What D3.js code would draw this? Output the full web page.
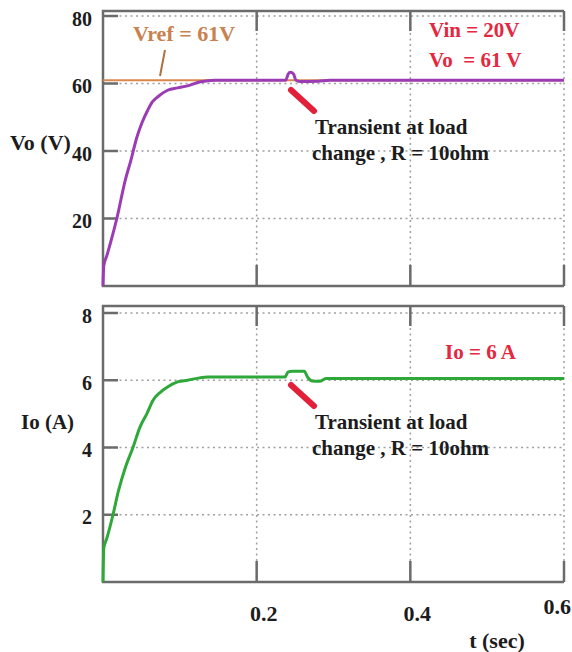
<!DOCTYPE html>
<html>
<head>
<style type="text/css">
body { margin: 0; background: #fff; }
.axisline { stroke: #6b6b6b; stroke-width: 2.5; fill: none; }
.grid { stroke: #a0a0a0; stroke-width: 1.5; stroke-dasharray: 2,3.5; fill: none; }
.tick-solid { stroke: #6b6b6b; stroke-width: 2.5; }
</style>
<script src="https://d3js.org/d3.v7.min.js"></script>
</head>
<body>
<script type="text/javascript">
var width = 572;
var height = 652;
var serif = "'Liberation Serif', 'Times New Roman', serif";

// data
var xTicks = [0.2, 0.4, 0.6];
var voTicks = [20, 40, 60, 80];
var ioTicks = [2, 4, 6, 8];
var vref = 61;

var voTime = [0, 0.001, 0.005, 0.010, 0.018, 0.029, 0.036, 0.044, 0.051, 0.058, 0.064, 0.071, 0.084, 0.097, 0.110, 0.127, 0.145, 0.2, 0.238, 0.241, 0.244, 0.248, 0.251, 0.256, 0.28, 0.295, 0.4, 0.5, 0.6];
var voVals = [0, 6, 9, 13, 20, 31.4, 37, 44, 48.5, 52, 54.5, 56, 58, 58.7, 59.3, 60.5, 61, 61, 61, 62.8, 63.3, 62.8, 61, 60.6, 60.7, 61, 61, 61, 61];

var ioTime = [0, 0.001, 0.005, 0.013, 0.02, 0.029, 0.039, 0.048, 0.057, 0.065, 0.075, 0.084, 0.097, 0.110, 0.136, 0.2, 0.237, 0.241, 0.246, 0.262, 0.266, 0.272, 0.282, 0.29, 0.3, 0.4, 0.5, 0.6];
var ioVals = [0, 1.0, 1.3, 2.0, 2.7, 3.4, 4.0, 4.6, 5.0, 5.4, 5.65, 5.8, 5.95, 6.0, 6.1, 6.1, 6.1, 6.25, 6.27, 6.27, 6.1, 5.98, 5.97, 6.05, 6.05, 6.05, 6.05, 6.05];

var svg = d3.select("body").append("svg").attr("width", width).attr("height", height);

var x = d3.scaleLinear().domain([0, 0.6]).range([103, 564]);
var yV = d3.scaleLinear().domain([0, 80]).range([286, 16]);
var yI = d3.scaleLinear().domain([0, 8]).range([582, 313]);

function txt(size, fill) {
	return function(sel) {
		sel.style("font-family", serif).style("font-weight", "bold")
			.style("font-size", size + "px").style("white-space", "pre").attr("fill", fill);
	};
}

function panel(y, ticks, top, bottom) {
	var g = svg.append("g");
	// horizontal grid + short solid ticks
	ticks.forEach(function(t) {
		g.append("line").attr("class", "grid").attr("x1", x(0)).attr("x2", x(0.6)).attr("y1", y(t)).attr("y2", y(t));
		g.append("line").attr("class", "tick-solid").attr("x1", x(0)).attr("x2", x(0) + 15).attr("y1", y(t)).attr("y2", y(t));
	});
	// vertical grid + solid ticks top and bottom
	xTicks.forEach(function(t) {
		g.append("line").attr("class", "grid").attr("x1", x(t)).attr("x2", x(t)).attr("y1", top).attr("y2", bottom);
		g.append("line").attr("class", "tick-solid").attr("x1", x(t)).attr("x2", x(t)).attr("y1", top).attr("y2", top + 20);
		g.append("line").attr("class", "tick-solid").attr("x1", x(t)).attr("x2", x(t)).attr("y1", bottom - 21).attr("y2", bottom);
	});
	g.append("path").attr("class", "axisline")
		.attr("d", "M" + x(0.6) + "," + top + "H" + x(0) + "V" + bottom + "H" + x(0.6));
	// tick labels
	var ax = d3.axisLeft(y).tickValues(ticks).tickSize(0).tickPadding(11).tickFormat(d3.format("d"));
	var a = g.append("g").attr("transform", "translate(" + x(0) + ",0)").call(ax);
	a.select(".domain").remove();
	a.selectAll("text").call(txt(20, "#1c1c1c")).attr("dy", "0.45em");
	return g;
}

panel(yV, voTicks, 11, yV(0));
panel(yI, ioTicks, 306, yI(0));

// x tick labels
svg.selectAll(".xl").data(xTicks).enter().append("text")
	.call(txt(22, "#1c1c1c"))
	.attr("x", function(d, i) { return i == xTicks.length - 1 ? 571 : x(d) + 7; })
	.attr("y", function(d, i) { return i == xTicks.length - 1 ? 614 : 621; })
	.attr("text-anchor", function(d, i) { return i == xTicks.length - 1 ? "end" : "middle"; })
	.text(function(d) { return d3.format(".1f")(d); });
svg.append("text").call(txt(22, "#1c1c1c")).attr("x", 497).attr("y", 648).attr("text-anchor", "middle").text("t (sec)");

// axis titles
svg.append("text").call(txt(22, "#1c1c1c")).attr("x", 10).attr("y", 150).text("Vo (V)");
svg.append("text").call(txt(21, "#1c1c1c")).attr("x", 21).attr("y", 429).text("Io (A)");

// Vref line
svg.append("line").attr("x1", x(0)).attr("x2", x(0.6)).attr("y1", yV(vref)).attr("y2", yV(vref))
	.attr("stroke", "#d8884e").attr("stroke-width", 2);
svg.append("line").attr("x1", 160).attr("y1", 76).attr("x2", 165).attr("y2", 50)
	.attr("stroke", "#b07040").attr("stroke-width", 2);
svg.append("text").call(txt(22, "#c88250")).attr("x", 133).attr("y", 41).text("Vref = 61V");

// Vo curve
var voData = voTime.map(function(t, i) { return [t, voVals[i]]; });
svg.append("path").datum(voData)
	.attr("fill", "none").attr("stroke", "#9c3cb4").attr("stroke-width", 3).attr("stroke-linejoin", "round")
	.attr("d", d3.line().curve(d3.curveMonotoneX).x(function(d) { return x(d[0]); }).y(function(d) { return yV(d[1]); }));

// Io curve
var ioData = ioTime.map(function(t, i) { return [t, ioVals[i]]; });
svg.append("path").datum(ioData)
	.attr("fill", "none").attr("stroke", "#2fa83a").attr("stroke-width", 3).attr("stroke-linejoin", "round")
	.attr("d", d3.line().curve(d3.curveMonotoneX).x(function(d) { return x(d[0]); }).y(function(d) { return yI(d[1]); }));

// red labels
svg.append("text").call(txt(21, "#e3283f")).attr("x", 429).attr("y", 37).text("Vin = 20V");
svg.append("text").call(txt(21, "#e3283f")).attr("x", 429).attr("y", 67).text("Vo  = 61 V");
svg.append("text").call(txt(21, "#e3283f")).attr("x", 445).attr("y", 359).text("Io = 6 A");

// transient notes with red pointers
function note(px, py) {
	svg.append("line").attr("x1", px).attr("y1", py).attr("x2", px + 23).attr("y2", py + 21)
		.attr("stroke", "#e3203a").attr("stroke-width", 6).attr("stroke-linecap", "round");
	svg.append("text").call(txt(21, "#1c1c1c")).attr("x", px + 24).attr("y", py + 44).text("Transient at load");
	svg.append("text").call(txt(21, "#1c1c1c")).attr("x", px + 21).attr("y", py + 70).text("change , R = 10ohm");
}
note(291, 90);
note(291, 385);
</script>
</body>
</html>
